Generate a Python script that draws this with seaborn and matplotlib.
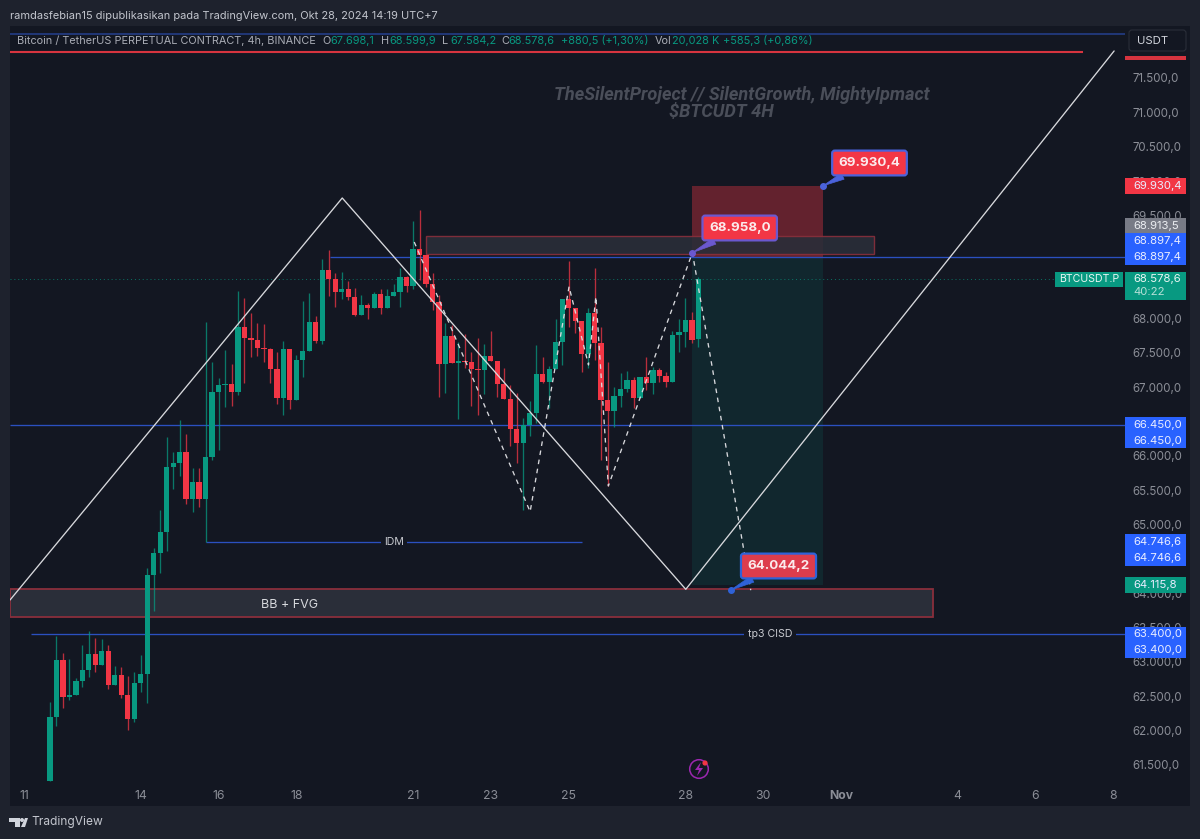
"""BTCUSDT 4h chart in the TradingView dark layout."""

import matplotlib
matplotlib.use("Agg")
import matplotlib.pyplot as plt
from matplotlib.patches import Circle, FancyBboxPatch, Polygon, Rectangle
import numpy as np
import seaborn as sns

# candles, oldest first (prices in USDT)
opens = [61271, 62203, 63028, 62494, 62523, 62722, 62887, 63111, 62955, 63163,
         62668, 62805, 62514, 62174, 62689, 62829, 64265, 64590, 64887, 65842,
         65891, 66060, 65367, 65623, 65372, 65987, 66925, 67031, 67050, 66929,
         67871, 67711, 67682, 67574, 67555, 67268, 66837, 67551, 66808, 67395,
         67526, 67948, 67671, 68705, 68570, 68389, 68424, 68316, 68050, 68195,
         68147, 68351, 68147, 68331, 68389, 68599, 68472, 69006, 68923, 68501,
         68243, 67341, 67744, 67347, 67380, 67370, 67264, 67254, 67453, 67385,
         67041, 66823, 66390, 66182, 66449, 66628, 67187, 67079, 67268, 67661,
         68278, 68156, 67967, 67487, 68079, 67647, 66813, 66652, 66875, 66968,
         67099, 66846, 67147, 67056, 67249, 67162, 67079, 67754, 67798, 67977,
         67698.1]
highs = [62421, 63377, 63126, 63043, 62762, 63242, 63455, 63353, 63334, 63246,
         62945, 62931, 62800, 62849, 63105, 64363, 64663, 65211, 66278, 66060,
         66521, 66313, 65818, 65827, 67952, 67361, 67128, 67540, 67337, 68399,
         68293, 68075, 67938, 67919, 67565, 67507, 67667, 67551, 67468, 68258,
         68366, 68035, 68861, 68996, 68666, 68671, 68540, 68438, 68341, 68229,
         68389, 68424, 68424, 68497, 68730, 68618, 69422, 69578, 68923, 68657,
         68341, 67938, 67904, 67661, 67773, 67516, 67711, 67628, 67821, 67385,
         67274, 67031, 66910, 66555, 66802, 67613, 67443, 67312, 67987, 68278,
         68836, 68156, 67967, 68147, 68730, 67880, 67370, 67006, 67210, 67239,
         67152, 67147, 67443, 67297, 67274, 67225, 67821, 67987, 68302, 68089,
         68599.9]
lows = [61271, 62072, 62325, 62446, 62519, 62639, 62776, 62853, 62955, 62606,
        62668, 62470, 62009, 62130, 62562, 62406, 63741, 64299, 64619, 65517,
        65706, 65299, 65187, 65251, 64747, 65939, 66085, 66715, 66725, 66885,
        67064, 67434, 67453, 67370, 67056, 66754, 66590, 66682, 66808, 67152,
        67526, 67647, 67628, 68331, 68162, 68278, 68268, 68035, 68050, 67992,
        68147, 68060, 68147, 68331, 68171, 68380, 68433, 68559, 68462, 68123,
        66852, 66910, 67347, 66532, 67274, 66725, 66594, 66896, 67385, 66852,
        66823, 66143, 65891, 65211, 66289, 66473, 67056, 66692, 67268, 67322,
        67880, 67792, 67216, 67283, 67395, 65939, 65561, 66415, 66715, 66925,
        66692, 66837, 66958, 66900, 67079, 66997, 67079, 67507, 67588, 67647,
        67584.2]
closes = [62203, 63028, 62494, 62523, 62722, 62887, 63111, 62955, 63163, 62668,
          62805, 62514, 62174, 62689, 62829, 64265, 64590, 64887, 65842, 65891,
          66060, 65367, 65623, 65372, 65987, 66925, 67031, 67050, 66929, 67871,
          67711, 67682, 67574, 67555, 67268, 66837, 67551, 66808, 67395, 67526,
          67948, 67671, 68705, 68570, 68389, 68424, 68316, 68050, 68195, 68147,
          68351, 68147, 68331, 68389, 68599, 68472, 69006, 68923, 68501, 68243,
          67341, 67744, 67347, 67380, 67370, 67264, 67254, 67453, 67385, 67041,
          66823, 66390, 66182, 66449, 66628, 67187, 67079, 67268, 67661, 68278,
          68156, 67967, 67487, 68079, 67647, 66813, 66652, 66875, 66968, 67099,
          66846, 67147, 67056, 67249, 67162, 67079, 67754, 67798, 67977, 67686,
          68578.6]

# x positions are days of October, so Nov 1 is 32
first_bar_day = 11.667
x_tick_days = [11, 14, 16, 18, 21, 23, 25, 28, 30, 32, 35, 37, 39]
x_tick_labels = ["11", "14", "16", "18", "21", "23", "25", "28", "30", "Nov", "4", "6", "8"]
y_ticks = list(range(61500, 72000, 500))

# drawings on the chart
zigzag_days = [10.64, 19.18, 28.01, 39.02]
zigzag_prices = [63901, 69753, 64057, 71893]
forecast_days = [21.03, 24.01, 25.01, 25.51, 25.70, 26.02, 28.18, 29.68]
forecast_prices = [69112, 65187, 68462, 67322, 68316, 65561, 68958, 64044]

BG = "#1e222d"
PANE = "#131722"
GREEN = "#089981"
RED = "#f23645"
BLUE = "#2962ff"
LINE_BLUE = "#2b50c0"
GRAY = "#8b8e97"

sns.set_theme(style="dark", rc={"axes.grid": False})
plt.rcParams["font.family"] = ["Inter", "DejaVu Sans"]


def px_axes(fig, zorder):
    """Axes laid over the whole figure, in image pixels with y going down."""
    axes = fig.add_axes([0, 0, 1, 1], zorder=zorder)
    axes.set_xlim(0, 1200)
    axes.set_ylim(839, 0)
    axes.axis("off")
    return axes


def price_to_px(price):
    return 839 - ax.transData.transform((0, price))[1]


def price_tag(price, label, color, stack=0, text_color="#e9edff"):
    """Box on the price scale, stack moves it one row down."""
    y = price_to_px(price) + stack * 15.7
    front.add_patch(Rectangle((1125, y - 7.9), 61, 15.8, color=color, lw=0))
    front.text(1133, y, label, color=text_color, fontsize=8.2, va="center")


def callout(day, price, label, text_x, text_y, face, edge):
    """Red price label with a wedge down to its anchor point."""
    dot_y = price_to_px(price)
    dot_x = ax.transData.transform((day, price))[0]
    ax.annotate(
        label,
        xy=(day, price),
        xytext=(text_x - dot_x, dot_y - text_y),
        textcoords="offset pixels",
        color="#fbeaec",
        fontsize=9.6,
        fontweight="bold",
        ha="center",
        va="center",
        zorder=8,
        bbox={"boxstyle": "round,pad=0.48,rounding_size=0.2", "fc": face, "ec": edge, "lw": 1.6},
        arrowprops={
            "arrowstyle": "wedge,tail_width=0.5,shrink_factor=0.5",
            "fc": edge,
            "ec": edge,
            "shrinkA": 0,
            "shrinkB": 0,
            "lw": 0.5,
        },
    )
    ax.plot(day, price, "o", color=edge, ms=4, zorder=9)


fig = plt.figure(figsize=(12, 8.39), dpi=100, facecolor=BG)
under = px_axes(fig, 0)
under.add_patch(Rectangle((9.5, 26), 1180.5, 780, color=PANE, lw=0))

ax = fig.add_axes([10 / 1200, (839 - 782) / 839, 1115 / 1200, 757 / 839], zorder=1)
ax.set_facecolor("none")
front = px_axes(fig, 2)

ax.set_xlim(10.64, 39.30)
ax.set_ylim(61252, 72271)

bar_days = first_bar_day + np.arange(len(opens)) / 6
candle_colors = [GREEN if c >= o else RED for o, c in zip(opens, closes)]

# position boxes and zones sit under the candles
ax.add_patch(Rectangle((28.17, 68897.4), 3.37, 1033, color=RED, alpha=0.36, lw=0, zorder=1))
ax.add_patch(Rectangle((28.17, 64115.8), 3.37, 4781.6, color=GREEN, alpha=0.13, lw=0, zorder=1))
ax.add_patch(Rectangle((21.33, 68938), 11.52, 262, fc="#2a2e39", ec="#8a2f3c", alpha=0.9, lw=1.0, zorder=1.5))
ax.add_patch(Rectangle((10.64, 63650), 23.73, 407, fc="#2a2e39", ec="#8a2f3c", lw=1.3, zorder=1.5))

# level lines
ax.hlines(72140, 10.64, 39.30, color="#25408f", lw=1.1, zorder=2)
ax.hlines(71885, 10.64, 38.22, color="#d7343f", lw=1.5, zorder=2)
ax.hlines(68897.4, 18.87, 39.30, color=LINE_BLUE, lw=0.95, zorder=2)
ax.hlines(66450, 10.64, 39.30, color=LINE_BLUE, lw=0.95, zorder=2)
ax.hlines(64746.6, 15.68, 25.34, color=LINE_BLUE, lw=0.95, zorder=2)
ax.hlines(63400, 11.17, 39.30, color=LINE_BLUE, lw=0.95, zorder=2)
ax.hlines(68578.6, 10.64, 38.0, color=GREEN, lw=0.7, linestyles=(0, (1, 3)), alpha=0.7, zorder=2)

# candles
ax.vlines(bar_days, lows, highs, colors=candle_colors, lw=0.95, alpha=0.75, zorder=3)
ax.bar(
    bar_days,
    np.abs(np.array(closes) - np.array(opens)),
    bottom=np.minimum(opens, closes),
    width=0.135,
    color=candle_colors,
    linewidth=0,
    zorder=4,
)

sns.lineplot(x=zigzag_days, y=zigzag_prices, sort=False, color="#d8d9dd", lw=0.95, ax=ax, zorder=5)
sns.lineplot(
    x=forecast_days,
    y=forecast_prices,
    sort=False,
    color="#d8d9dd",
    lw=0.95,
    linestyle=(0, (3.5, 3.5)),
    ax=ax,
    zorder=5,
)
ax.set_xlim(10.64, 39.30)
ax.set_ylim(61252, 72271)

# axes: ticks only, no spines or grid
for spine in ax.spines.values():
    spine.set_visible(False)
ax.yaxis.tick_right()
ax.set_yticks(y_ticks)
ax.set_yticklabels([f"{v:,.1f}".replace(",", "X").replace(".", ",").replace("X", ".") for v in y_ticks])
ax.set_xticks(x_tick_days)
ax.set_xticklabels(x_tick_labels)
ax.tick_params(axis="y", length=0, pad=5.2, labelsize=8.3, labelcolor=GRAY)
ax.tick_params(axis="x", length=0, pad=5.8, labelsize=8.8, labelcolor=GRAY)
ax.get_xticklabels()[x_tick_labels.index("Nov")].set_fontweight("bold")

# labels on the lines and zones
ax.text(20.51, 64746.6, "IDM", color="#c8cad0", fontsize=7.6, ha="center", va="center", zorder=6,
        bbox={"fc": PANE, "ec": "none", "pad": 2.5})
ax.text(30.18, 63400, "tp3 CISD", color="#c8cad0", fontsize=7.6, ha="center", va="center", zorder=6,
        bbox={"fc": PANE, "ec": "none", "pad": 2.5})
ax.text(17.83, 63825, "BB + FVG", color="#d6d8dc", fontsize=9, ha="center", va="center", zorder=6)

callout(28.18, 68958, "68.958,0", 739.7, 228, "#f23645", "#6b58cf")
callout(31.54, 69930.4, "69.930,4", 869.5, 163, "#f23645", "#4a62db")
callout(29.16, 64044.2, "64.044,2", 778.5, 566, "#dd3c4c", "#2f62d8")

# scale tags, drawn over the tick labels
front.add_patch(Rectangle((1125, 56), 61, 4, color="#d7343f", lw=0))
price_tag(69930.4, "69.930,4", RED)
front.add_patch(Rectangle((1125, 218), 61, 16, color="#787b86", lw=0))
front.text(1133, 226, "68.913,5", color="#eceef2", fontsize=8.2, va="center")
price_tag(68897.4, "68.897,4", BLUE, stack=-1)
price_tag(68897.4, "68.897,4", BLUE)
price_tag(66450, "66.450,0", BLUE)
price_tag(66450, "66.450,0", BLUE, stack=1)
price_tag(64746.6, "64.746,6", BLUE)
price_tag(64746.6, "64.746,6", BLUE, stack=1)
price_tag(64115.8, "64.115,8", GREEN)
price_tag(63400, "63.400,0", BLUE)
price_tag(63400, "63.400,0", BLUE, stack=1)
front.add_patch(Rectangle((1125, 272), 61, 27.5, color=GREEN, lw=0))
front.text(1133, 279.5, "68.578,6", color="#e9f6f3", fontsize=8.2, va="center")
front.text(1133, 292, "40:22", color="#b5e0d7", fontsize=8.2, va="center")
front.add_patch(Rectangle((1055, 272), 68, 15, color=GREEN, lw=0))
front.text(1059, 279.5, "BTCUSDT.P", color="#e9f6f3", fontsize=7.6, va="center")

# currency button
front.add_patch(FancyBboxPatch((1129, 30), 57, 21, boxstyle="round,pad=0,rounding_size=3",
                               fc=PANE, ec="#2a2e39", lw=0.8))
front.text(1137, 40.5, "USDT", color="#d1d4dc", fontsize=8.2, va="center")

# header and legend row
front.text(10, 16, "ramdasfebian15 dipublikasikan pada TradingView.com, Okt 28, 2024 14:19 UTC+7",
           color="#c3c6ce", fontsize=7.9, va="center")
legend_row = [
    (17, "Bitcoin / TetherUS PERPETUAL CONTRACT, 4h, BINANCE", "#a9acb5"),
    (322, "O", "#a9acb5"), (330, "67.698,1", GREEN),
    (381, "H", "#a9acb5"), (389, "68.599,9", GREEN),
    (442, "L", "#a9acb5"), (450, "67.584,2", GREEN),
    (501, "C", "#a9acb5"), (508, "68.578,6", GREEN),
    (561, "+880,5 (+1,30%)", GREEN),
    (655, "Vol", "#a9acb5"), (672, "20,028 K", GREEN),
    (723, "+585,3 (+0,86%)", GREEN),
]
for x, label, color in legend_row:
    front.text(x, 41, label, color=color, fontsize=7.85, va="center")

# watermark
front.text(741.5, 95, "TheSilentProject // SilentGrowth, MightyIpmact", color="#4a4e59",
           fontsize=13.1, fontstyle="italic", fontweight="bold", ha="center", va="center",
           family=["Roboto", "DejaVu Sans"])
front.text(721, 112, "$BTCUDT 4H", color="#4a4e59", fontsize=13.1, fontstyle="italic",
           fontweight="bold", ha="center", va="center", family=["Roboto", "DejaVu Sans"])

# bolt icon near the time scale
front.add_patch(Circle((699, 769), 9.3, fc="none", ec="#9c27b0", lw=1.1))
front.add_patch(Polygon([(701, 762), (695, 770), (699, 770), (697, 776), (703, 768), (699, 768)],
                        color="#9c27b0", lw=0))
front.add_patch(Circle((705, 763), 2.6, color=RED, lw=0))

# footer logo
front.add_patch(Polygon([(9, 818), (20, 818), (20, 827), (15, 827), (15, 822), (9, 822)],
                        color="#d1d4dc", lw=0))
front.add_patch(Circle((22, 820), 2, color="#d1d4dc", lw=0))
front.add_patch(Polygon([(21, 827), (25, 818), (28, 818), (25, 827)], color="#d1d4dc", lw=0))
front.text(31, 822.5, "TradingView", color="#c3c6ce", fontsize=8.6, va="center")

fig.savefig("out.png", dpi=100, facecolor=BG)
plt.close(fig)
